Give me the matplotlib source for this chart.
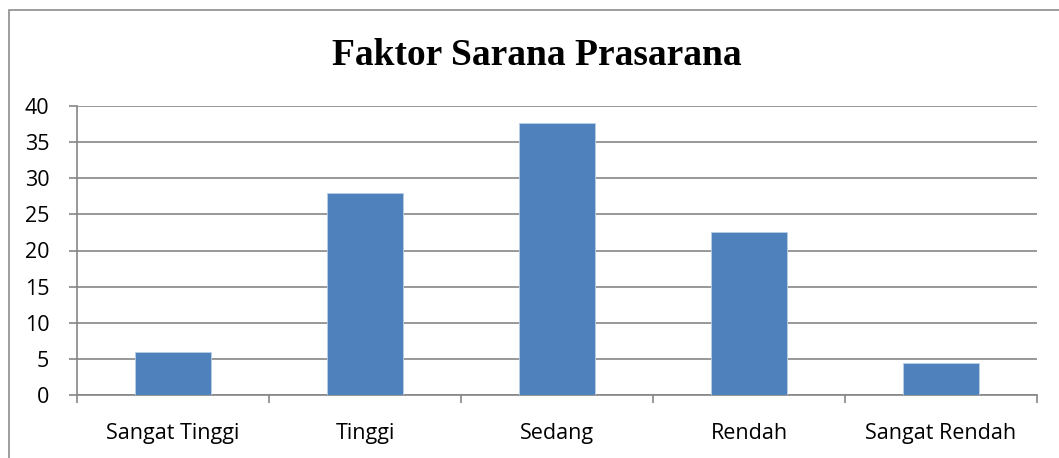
import matplotlib.pyplot as plt
from matplotlib.patches import Rectangle

kategori = ['Sangat Tinggi', 'Tinggi', 'Sedang', 'Rendah', 'Sangat Rendah']
nilai = [6.0, 27.9, 37.6, 22.6, 4.4]
yticks = [0, 5, 10, 15, 20, 25, 30, 35, 40]

fig = plt.figure(figsize=(10.59, 4.58), dpi=100)
ax = fig.add_axes([77/1059, 1 - 395.3/458, (1037 - 77)/1059, (395.3 - 105.7)/458])

x = range(len(kategori))
ax.bar(x, nilai, width=0.4, color='#4F81BD', edgecolor='#B9CDE5', linewidth=0.6, zorder=3)

grid_c = '#868686'
ax.set_ylim(0, 40)
ax.set_xlim(-0.5, len(kategori) - 0.5)
ax.set_yticks(yticks)
ax.yaxis.grid(True, color=grid_c, linewidth=1.2, zorder=0)
ax.set_xticks([i - 0.5 for i in range(len(kategori) + 1)])
ax.set_xticklabels([])
ax.set_xticks(list(x), minor=True)
ax.set_xticklabels(kategori, minor=True)
ax.tick_params(axis='x', which='major', length=6, color=grid_c, width=1.2)
ax.tick_params(axis='x', which='minor', length=0, pad=20, labelsize=15.5)
ax.tick_params(axis='y', length=6, color=grid_c, width=1.2, pad=14, labelsize=15.5)
for s in ['top', 'right']:
    ax.spines[s].set_visible(False)
for s in ['left', 'bottom']:
    ax.spines[s].set_color(grid_c)
    ax.spines[s].set_linewidth(1.2)

for lab in ax.get_xticklabels(minor=True) + ax.get_yticklabels():
    lab.set_fontfamily('Open Sans')

fig.text(537/1059, 1 - 65/458, 'Faktor Sarana Prasarana', ha='center', va='baseline',
         fontsize=27, fontweight='bold', fontfamily='Liberation Serif')

# rahmen um das diagramm
fig.patches.append(Rectangle((8.5/1059, -0.1), 1.2, 1.1 - 10/458, transform=fig.transFigure,
                             fill=False, edgecolor='#8c8c8c', linewidth=1.2))

fig.savefig('out.png', dpi=100)
